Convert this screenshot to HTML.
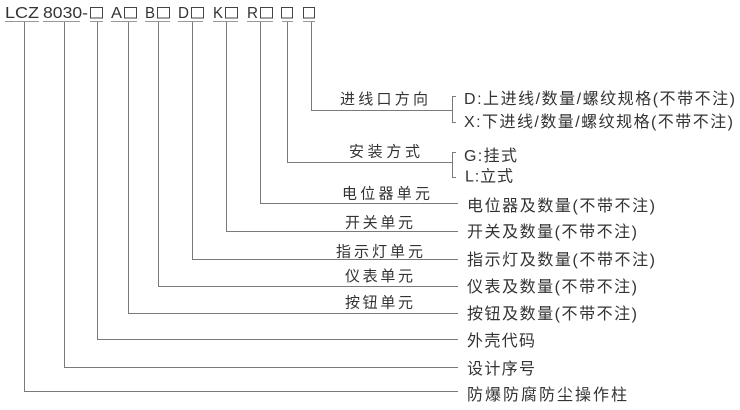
<!DOCTYPE html>
<html>
<head>
<meta charset="utf-8">
<style>
  html,body{margin:0;padding:0;background:#fff;}
  svg{display:block;}
  .t{font-family:"Liberation Sans","Noto Sans CJK SC",sans-serif;fill:#333;}
</style>
</head>
<body>
<svg width="740" height="410" viewBox="0 0 740 410" xmlns="http://www.w3.org/2000/svg">
  <!-- top code text -->
  <g class="t" font-size="16">
    <text x="5" y="18" textLength="34" lengthAdjust="spacingAndGlyphs">LCZ</text>
    <text x="43" y="18" textLength="45" lengthAdjust="spacingAndGlyphs">8030-</text>
    <text x="111" y="18" textLength="11" lengthAdjust="spacingAndGlyphs">A</text>
    <text x="145" y="18" textLength="10" lengthAdjust="spacingAndGlyphs">B</text>
    <text x="178" y="18" textLength="11" lengthAdjust="spacingAndGlyphs">D</text>
    <text x="213" y="18" textLength="10" lengthAdjust="spacingAndGlyphs">K</text>
    <text x="247" y="18" textLength="11" lengthAdjust="spacingAndGlyphs">R</text>
  </g>
  <!-- placeholder boxes -->
  <g fill="none" stroke="#444" stroke-width="1">
    <rect x="90.5" y="7.5" width="12" height="10.5"/>
    <rect x="124.5" y="7.5" width="12" height="10.5"/>
    <rect x="157.5" y="7.5" width="12" height="10.5"/>
    <rect x="191.5" y="7.5" width="12" height="10.5"/>
    <rect x="225.5" y="7.5" width="12" height="10.5"/>
    <rect x="260.5" y="7.5" width="12" height="10.5"/>
    <rect x="281.5" y="7.5" width="11" height="10.5"/>
    <rect x="303.5" y="7.5" width="11" height="10.5"/>
  </g>
  <!-- underlines -->
  <g stroke="#999" stroke-width="1">
    <line x1="5" y1="21.5" x2="39" y2="21.5"/>
    <line x1="43" y1="21.5" x2="80" y2="21.5"/>
    <line x1="90" y1="21.5" x2="103" y2="21.5"/>
    <line x1="111" y1="21.5" x2="137" y2="21.5"/>
    <line x1="145" y1="21.5" x2="170" y2="21.5"/>
    <line x1="178" y1="21.5" x2="203" y2="21.5"/>
    <line x1="213" y1="21.5" x2="238" y2="21.5"/>
    <line x1="247" y1="21.5" x2="273" y2="21.5"/>
    <line x1="282" y1="21.5" x2="293" y2="21.5"/>
    <line x1="303" y1="21.5" x2="315" y2="21.5"/>
  </g>
  <!-- connectors -->
  <g fill="none" stroke="#7a7a7a" stroke-width="1">
    <path d="M311.5 22 V110.5 H452.5"/>
    <path d="M456 96.5 H452.5 V122.5 H456"/>
    <path d="M287.5 22 V162.5 H452.5"/>
    <path d="M456 152.5 H452.5 V177.5 H456"/>
    <path d="M260.5 22 V203.5 H458"/>
    <path d="M226.5 22 V231.5 H458"/>
    <path d="M192.5 22 V259.5 H458"/>
    <path d="M158.5 22 V286.5 H458"/>
    <path d="M128.5 22 V313.5 H458"/>
    <path d="M97.5 22 V339.5 H458"/>
    <path d="M64.5 22 V367.5 H458"/>
    <path d="M24.5 22 V391.5 H458"/>
  </g>
  <!-- left labels -->
  <g class="t" font-size="15">
    <text x="340" y="104" textLength="88" lengthAdjust="spacing">进线口方向</text>
    <text x="349" y="156.5" textLength="71" lengthAdjust="spacing">安装方式</text>
    <text x="342" y="198.5" textLength="88" lengthAdjust="spacing">电位器单元</text>
    <text x="345" y="227.5" textLength="68" lengthAdjust="spacing">开关单元</text>
    <text x="336" y="256.5" textLength="87" lengthAdjust="spacing">指示灯单元</text>
    <text x="345" y="281" textLength="68" lengthAdjust="spacing">仪表单元</text>
    <text x="345" y="307.5" textLength="68" lengthAdjust="spacing">按钮单元</text>
  </g>
  <!-- right labels -->
  <g class="t" font-size="16">
    <text x="464" y="104" textLength="271" lengthAdjust="spacing">D:上进线/数量/螺纹规格(不带不注)</text>
    <text x="464" y="127" textLength="269" lengthAdjust="spacing">X:下进线/数量/螺纹规格(不带不注)</text>
    <text x="464" y="161" textLength="53" lengthAdjust="spacing">G:挂式</text>
    <text x="465" y="181.5" textLength="48" lengthAdjust="spacing">L:立式</text>
    <text x="467" y="211" textLength="188" lengthAdjust="spacing">电位器及数量(不带不注)</text>
    <text x="467" y="237" textLength="170" lengthAdjust="spacing">开关及数量(不带不注)</text>
    <text x="467" y="265" textLength="188" lengthAdjust="spacing">指示灯及数量(不带不注)</text>
    <text x="467" y="292" textLength="170" lengthAdjust="spacing">仪表及数量(不带不注)</text>
    <text x="467" y="319" textLength="170" lengthAdjust="spacing">按钮及数量(不带不注)</text>
    <text x="467" y="346" textLength="68" lengthAdjust="spacing">外壳代码</text>
    <text x="467" y="374" textLength="68" lengthAdjust="spacing">设计序号</text>
    <text x="467" y="400" textLength="160" lengthAdjust="spacing">防爆防腐防尘操作柱</text>
  </g>
</svg>
</body>
</html>
